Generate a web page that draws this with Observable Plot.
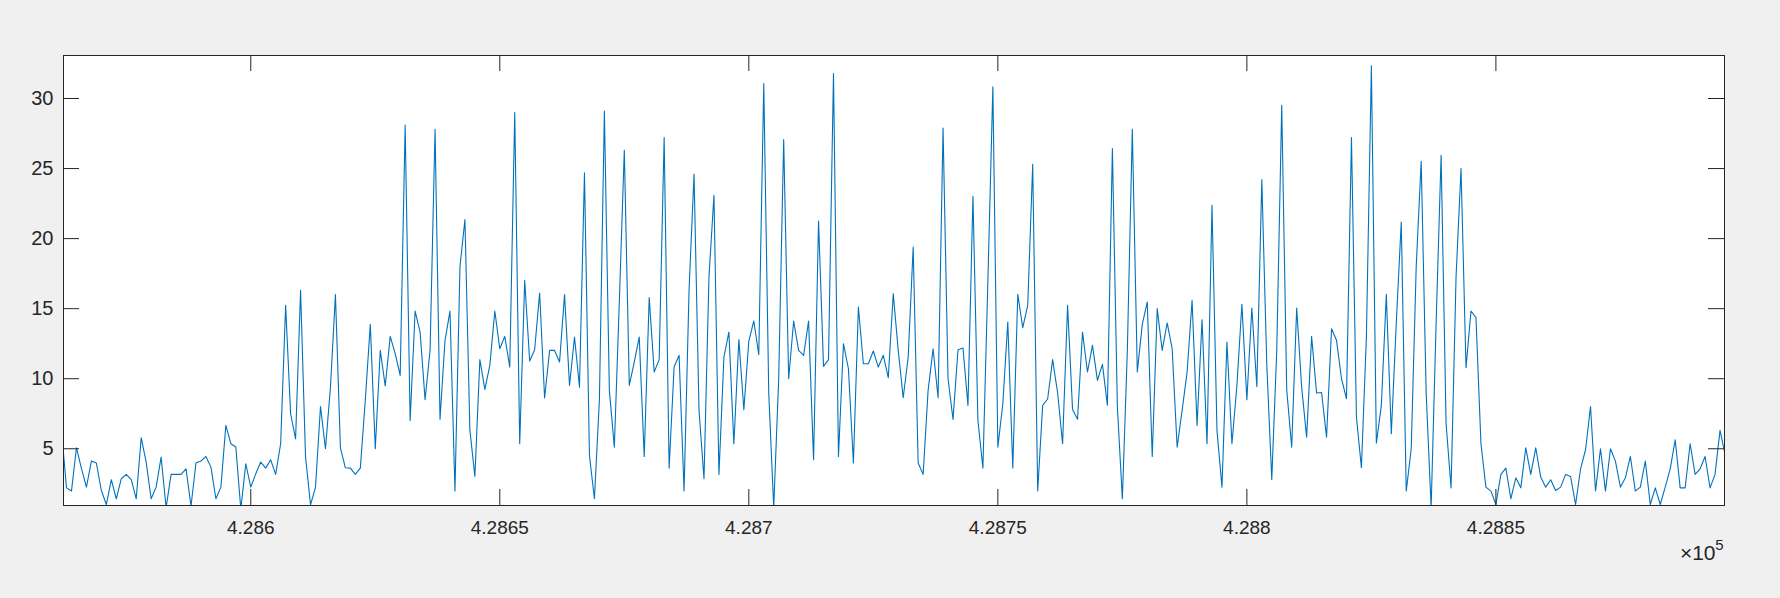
<!DOCTYPE html>
<html>
<head>
<meta charset="utf-8">
<script src="https://cdn.jsdelivr.net/npm/d3@7"></script>
<script src="https://cdn.jsdelivr.net/npm/@observablehq/plot@0.6"></script>
<style>
  html, body { margin: 0; padding: 0; background: #f0f0f0; }
  #chart { width: 1780px; height: 598px; }
</style>
</head>
<body>
<div id="chart"></div>
<script>
// ---- data ----
const xStart = 428562; // first sample position (step 1)
const valuesA = [6.31, 2.21, 1.98, 5.07, 3.6, 2.26, 4.12, 3.98, 2.02, 1.02, 2.79, 1.43, 2.86, 3.17, 2.79, 1.43, 5.79, 4.05, 1.43, 2.26, 4.40, 0.8, 3.17, 3.17, 3.17, 3.57, 0.9, 3.98, 4.12, 4.45, 3.69, 1.43, 2.26, 6.67,
  5.36, 5.12, 0.7, 3.93, 2.26, 3.21, 4.05, 3.62, 4.21, 3.17, 5.36, 15.24, 7.5, 5.71, 16.31, 4.40, 1.0, 2.26, 8.02, 5.0, 9.40, 16.0, 5.07, 3.64, 3.62, 3.17, 3.62, 8.5, 13.88, 5.0, 12.02, 9.48, 13.02];
const valuesB = [11.79, 10.24, 28.1, 7.02, 14.83, 13.33, 8.5, 12.02, 27.81, 7.1, 12.74, 14.83, 1.98, 17.98, 21.36, 6.31, 3.02, 11.36, 9.24, 10.95, 14.83, 12.14, 13.02, 10.83, 29.0, 5.36, 17.02, 11.26, 12.07, 16.12, 8.62, 12.02, 12.02, 11.19,
  16.0, 9.52, 12.98, 9.40, 24.69, 4.52, 1.43, 8.5, 29.1, 9.17, 5.12, 15.5, 26.31, 9.52, 11.19, 12.98, 4.45, 15.79, 10.48, 11.36, 27.21, 3.62, 10.83, 11.67, 1.98, 16.31, 24.6, 7.74, 2.86, 17.26, 23.1, 3.17, 11.55];
const valuesC = [13.33, 5.36, 12.79, 7.79, 12.69, 14.12, 11.71, 31.07, 9, 0.8, 10, 27.07, 10.0, 14.12, 12.02, 11.67, 14.12, 4.21, 21.26, 10.88, 11.36, 31.79, 4.45, 12.5, 10.71, 3.98, 15.12, 11.07, 11.07, 11.98, 10.83, 11.67, 10.07,
  16.07, 12.02, 8.64, 11.55, 19.4, 3.98, 3.17, 9.17, 12.14, 8.64, 27.9, 10.0, 7.1, 12.07, 12.19, 8.1, 23.02, 7.02, 3.62, 17, 30.83, 5.12, 8.21, 14.05, 3.62, 16.02, 13.64, 15.24, 25.31, 1.98, 8.1, 8.55, 11.36, 9.0];
const valuesD = [5.36, 15.24, 7.81, 7.1, 13.33, 10.48, 12.38, 9.88, 11.02, 8.1, 26.43, 8, 1.43, 12, 27.81, 10.48, 13.88, 15.48, 4.45, 15.0, 12.02, 13.98, 12.14, 5.12, 7.74, 10.48, 15.6, 6.67, 14.21, 5.36, 22.38, 6.31, 2.26,
  12.62, 5.36, 9.52, 15.31, 8.5, 15.05, 9.45, 24.21, 11, 2.81, 12, 29.52, 9.21, 5.12, 15.05, 9.4, 5.83, 13.02, 8.98, 9.02, 5.83, 13.57, 12.74, 10.0, 8.57, 27.21, 7.26, 3.64, 13, 32.33, 5.4, 8.1, 16.02];
const valuesE = [6.07, 14, 21.19, 1.98, 5.0, 18, 25.52, 9, 0.8, 14, 25.95, 6.79, 2.21, 17.26, 25.0, 10.79, 14.83, 14.36, 5.36, 2.26, 1.98, 1.02, 3.17, 3.62, 1.43, 2.93, 2.21, 5.07, 3.17, 5.07, 2.98, 2.26, 2.79, 2.02,
  2.26, 3.17, 3.02, 1.02, 3.57, 4.93, 8.02, 1.98, 5.0, 1.98, 5.0, 4.12, 2.26, 2.93, 4.45, 1.98, 2.26, 4.12, 1.02, 2.21, 1.02, 2.26, 3.57, 5.64, 2.21, 2.21, 5.36, 3.17, 3.57, 4.45, 2.21, 3.17, 6.31, 4.64];

const xTickValues = [428600, 428650, 428700, 428750, 428800, 428850];
const xTickLabels = ["4.286", "4.2865", "4.287", "4.2875", "4.288", "4.2885"];
const yTickValues = [5, 10, 15, 20, 25, 30];
const xExponentBase = "×10";
const xExponent = "5";

// ---- build ----
const values = [...valuesA, ...valuesB, ...valuesC, ...valuesD, ...valuesE];
const data = values.map((v, i) => ({x: xStart + i, y: v}));

const W = 1780, H = 598;
const mL = 63, mR = 56, mT = 55, mB = 93;
const innerW = W - mL - mR, innerH = H - mT - mB;
const tickLen = 16;
const axisColor = "#262626";
const font = "'Liberation Sans', Arial, Helvetica, sans-serif";

const chart = Plot.plot({
  width: W,
  height: H,
  marginLeft: mL,
  marginRight: mR,
  marginTop: mT,
  marginBottom: mB,
  style: {background: "#f0f0f0", fontFamily: font, fontSize: "19px", color: axisColor},
  x: {domain: [xStart + 0.4, xStart + values.length - 1.1]},
  y: {domain: [0.95, 33.07]},
  marks: [
    Plot.frame({fill: "white", stroke: null}),
    Plot.line(data, {x: "x", y: "y", stroke: "#0072BD", strokeWidth: 1.1, clip: true}),
    Plot.tickX(xTickValues, {x: d => d, stroke: axisColor, strokeWidth: 1, insetTop: innerH - tickLen}),
    Plot.tickX(xTickValues, {x: d => d, stroke: axisColor, strokeWidth: 1, insetBottom: innerH - tickLen}),
    Plot.tickY(yTickValues, {y: d => d, stroke: axisColor, strokeWidth: 1, insetRight: innerW - tickLen}),
    Plot.tickY(yTickValues, {y: d => d, stroke: axisColor, strokeWidth: 1, insetLeft: innerW - tickLen}),
    Plot.axisX(xTickValues, {
      tickSize: 0, tickPadding: 15, label: null, fill: axisColor, fontSize: 19,
      tickFormat: d => xTickLabels[xTickValues.indexOf(d)]
    }),
    Plot.axisY(yTickValues, {
      tickSize: 0, tickPadding: 10, label: null, fill: axisColor, fontSize: 20,
      tickFormat: d => String(d)
    }),
    Plot.text([xExponentBase], {
      text: d => d, frameAnchor: "bottom-right", textAnchor: "end", lineAnchor: "bottom",
      dx: -9, dy: 54, fontSize: 21, fill: axisColor
    }),
    Plot.text([xExponent], {
      text: d => d, frameAnchor: "bottom-right", textAnchor: "end", lineAnchor: "bottom",
      dx: -1, dy: 44, fontSize: 15, fill: axisColor
    }),
    Plot.frame({stroke: axisColor, strokeWidth: 1})
  ]
});
document.getElementById("chart").appendChild(chart);
</script>
</body>
</html>
